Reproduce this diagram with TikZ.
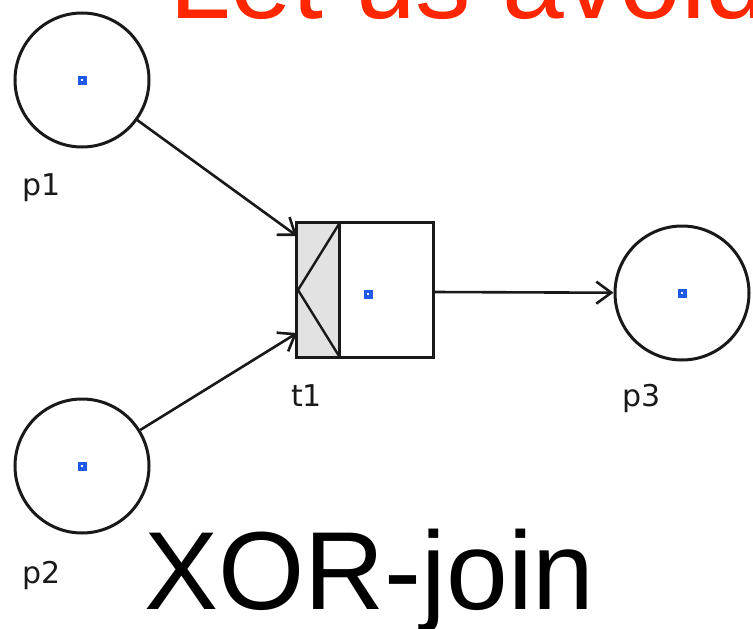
\documentclass[tikz,border=0pt]{standalone}
\usepackage{fontspec}
\setmainfont{Liberation Sans}
\newfontfamily\labelfont{DejaVu Sans}
\usetikzlibrary{arrows.meta,calc}
\definecolor{titlered}{RGB}{255,38,0}
\definecolor{tokenblue}{RGB}{30,90,230}
\definecolor{bargrey}{RGB}{226,226,226}
\tikzset{
  place/.style={circle, draw=black!90, line width=3pt, minimum size=134pt, inner sep=0pt},
  arc/.style={draw=black!90, line width=2.6pt, -{Straight Barb[length=15pt,width=22pt,line width=2.6pt]}},
  lbl/.style={inner sep=0pt, font=\labelfont\fontsize{30}{36}\selectfont, text=black!90},
  big/.style={inner sep=0pt, font=\fontsize{111}{130}\selectfont},
}
\newcommand{\tokendot}[1]{%
  \fill[tokenblue] ($(#1)+(-4.5,-4.5)$) rectangle ($(#1)+(4.5,4.5)$);
  \fill[white] ($(#1)+(-1.4,-1.4)$) rectangle ($(#1)+(1.4,1.4)$);}
\begin{document}
\begin{tikzpicture}[x=1pt,y=-1pt]
\useasboundingbox (0,0) rectangle (753,629);
% titles
\node[big, text=titlered, anchor=base west] (title) at (169,18) {Let us avoid};
\node[big, anchor=base west] (xor) at (144,609) {XOR-join};
% places
\node[place] (p1) at (82,80) {};
\node[place] (p2) at (82,466) {};
\node[place] (p3) at (682,293) {};
% transition
\node[rectangle, inner sep=0pt, minimum width=136pt, minimum height=134pt] (t1) at (365,290) {};
\fill[bargrey] (297,223) rectangle (339,357);
\draw[black!90, line width=3pt] (339,223) -- (339,357);
\draw[black!90, line width=2.4pt] (339,224) -- (298,290) -- (339,356);
\draw[black!90, line width=3pt] (t1.north west) rectangle (t1.south east);
% tokens
\coordinate (k1) at (p1.center);
\coordinate (k2) at (p2.center);
\coordinate (k3) at (p3.center);
\coordinate (kt) at (368,294);
\tokendot{k1}
\tokendot{k2}
\tokendot{k3}
\tokendot{kt}
% labels
\node[lbl, anchor=base west] (lp1) at (22,195) {p1};
\node[lbl, anchor=base west] (lp2) at (22,583) {p2};
\node[lbl, anchor=base west] (lt1) at (291,406) {t1};
\node[lbl, anchor=base west] (lp3) at (622,406) {p3};
% arcs
\coordinate (in1) at (297,236);
\coordinate (in2) at (297,333);
\coordinate (out1) at (433,292);
\draw[arc] (p1) -- (in1);
\draw[arc] (p2) -- (in2);
\draw[arc] (out1) -- (p3);
\end{tikzpicture}
\end{document}
